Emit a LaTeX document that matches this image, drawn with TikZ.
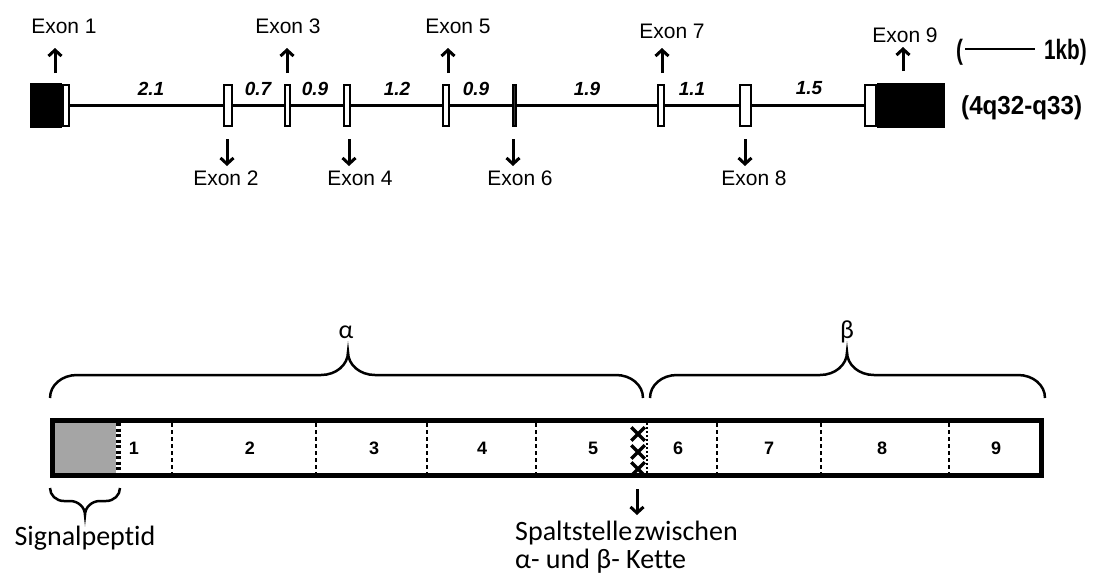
\documentclass[tikz,border=0pt]{standalone}
\usepackage{fontspec}
\setmainfont{Liberation Sans}
\newfontfamily\calfont[Ligatures=NoCommon]{Carlito}
\newfontfamily\kbfont[FakeStretch=0.74]{Liberation Sans Bold}
\newfontfamily\locfont[FakeStretch=0.93]{Liberation Sans Bold}
\usetikzlibrary{arrows.meta,shapes.misc,backgrounds}
\definecolor{sgray}{RGB}{165,165,165}
\begin{document}
\begin{tikzpicture}[x=1pt,y=-1pt,
  exon/.style={draw, line width=2pt, fill=white, inner sep=0pt, outer sep=0pt, minimum height=41pt},
  exonblack/.style={fill=black, inner sep=0pt, outer sep=0pt, minimum height=45pt},
  exonlab/.style={font=\fontsize{21}{25}\selectfont, inner sep=0pt, anchor=base},
  len/.style={font=\fontsize{19}{23}\selectfont\bfseries\itshape, inner sep=0pt, anchor=base},
  num/.style={font=\fontsize{18}{21}\selectfont\bfseries, inner sep=0pt, anchor=base},
  cal/.style={font=\fontsize{28}{32}\selectfont\calfont, inner sep=0pt},
  greek/.style={font=\fontsize{26}{30}\selectfont\calfont, inner sep=0pt, anchor=base},
  arr/.style={line width=3pt, -{Straight Barb[length=6pt,width=13pt,line width=3pt]}},
  brace/.style={line width=2.5pt},
  xmark/.style={draw, cross out, line width=3.5pt, minimum size=10pt, inner sep=0pt}
]
\useasboundingbox (0,0) rectangle (1097,576);
\begin{pgfonlayer}{background}
\fill[white] (0,0) rectangle (1097,576);
\end{pgfonlayer}

% ---------- gene ----------
\node[exonblack, minimum width=32pt] (e1b) at (46,105.5) {};
\node[exon, minimum width=6pt] (e1w) at (66,105.5) {};
\node[exon, minimum width=8pt] (e2) at (227.5,105.5) {};
\node[exon, minimum width=5pt] (e3) at (287,105.5) {};
\node[exon, minimum width=6pt] (e4) at (346.5,105.5) {};
\node[exon, minimum width=6pt] (e5) at (445.5,105.5) {};
\node[exon, minimum width=3pt, fill=black!80] (e6) at (514,105.5) {};
\node[exon, minimum width=6pt] (e7) at (660.5,105.5) {};
\node[exon, minimum width=11pt] (e8) at (745.5,105.5) {};
\node[exon, minimum width=11pt] (e9w) at (870.5,105.5) {};
\node[exonblack, minimum width=68pt] (e9b) at (911,105.5) {};
\begin{pgfonlayer}{background}
\draw[line width=3.5pt] (e1w.east) -- (e9w.west);
\end{pgfonlayer}

% exon labels
\node[exonlab] (l1) at (64,33) {Exon 1};
\node[exonlab] (l2) at (226,185) {Exon 2};
\node[exonlab] (l3) at (288,33) {Exon 3};
\node[exonlab] (l4) at (360,185) {Exon 4};
\node[exonlab] (l5) at (458,33) {Exon 5};
\node[exonlab] (l6) at (520,185) {Exon 6};
\node[exonlab] (l7) at (672,38) {Exon 7};
\node[exonlab] (l8) at (754,185) {Exon 8};
\node[exonlab] (l9) at (905,42) {Exon 9};

% arrows
\coordinate (u1) at (55,73);   \coordinate (t1) at (55,48);
\coordinate (u3) at (287,73);  \coordinate (t3) at (287,48);
\coordinate (u5) at (448,73);  \coordinate (t5) at (448,48);
\coordinate (u7) at (662,73);  \coordinate (t7) at (662,48);
\coordinate (u9) at (903,71);  \coordinate (t9) at (903,47);
\coordinate (d2) at (227,139); \coordinate (s2) at (227,166);
\coordinate (d4) at (349,139); \coordinate (s4) at (349,166);
\coordinate (d6) at (513,139); \coordinate (s6) at (513,166);
\coordinate (d8) at (745,139); \coordinate (s8) at (745,166);
\foreach \a/\b in {u1/t1,u3/t3,u5/t5,u7/t7,u9/t9,d2/s2,d4/s4,d6/s6,d8/s8}
  \draw[arr] (\a) -- (\b);

% intron lengths
\node[len] (i1) at (151,95) {2.1};
\node[len] (i2) at (258,95) {0.7};
\node[len] (i3) at (315,95) {0.9};
\node[len] (i4) at (397,95) {1.2};
\node[len] (i5) at (476,95) {0.9};
\node[len] (i6) at (587,95) {1.9};
\node[len] (i7) at (692,95) {1.1};
\node[len] (i8) at (809,94) {1.5};

% scale and locus
\node[anchor=base west, inner sep=0pt, font=\fontsize{28}{32}\selectfont\kbfont] (kb) at (956,59)
  {(\hspace{2pt}\rule[9pt]{70pt}{2.5pt}\hspace{9pt}1kb)};
\node[anchor=base west, inner sep=0pt, font=\fontsize{26}{30}\selectfont\locfont] (loc) at (961,114) {(4q32-q33)};

% ---------- protein ----------
\node[fill=sgray, minimum width=61pt, minimum height=51pt, inner sep=0pt] (sp) at (85,447.75) {};
\node[draw, line width=5pt, minimum width=989pt, minimum height=55.5pt, inner sep=0pt] (bar) at (547,447.75) {};
\draw[line width=5pt, dash pattern=on 3pt off 2.5pt] (118,423) -- (118,473);
\foreach \x in {172,316,427,536,717,821,949}
  \draw[line width=1.5pt, dash pattern=on 4pt off 3pt] (\x,423) -- (\x,473);
\draw[line width=2pt, dash pattern=on 2pt off 2pt] (647,423) -- (647,473);

\foreach \n/\x in {1/134,2/250,3/374,4/482,5/593,6/678,7/769,8/882,9/996}
  \node[num] (n\n) at (\x,454) {\n};

\foreach \i/\y in {1/434,2/452,3/469}
  \node[xmark] (x\i) at (638,\y) {};

\coordinate (c1) at (637,489);
\coordinate (c2) at (637,515);
\draw[arr] (c1) -- (c2);

% braces
\draw[brace] (50,398) .. controls (50,385) and (62,375) .. (77,375) -- (321,375)
  .. controls (336,375) and (348,365) .. (348,352)
  .. controls (348,365) and (360,375) .. (375,375) -- (616,375)
  .. controls (631,375) and (643,385) .. (643,398);
\draw[brace] (650,398) .. controls (650,385) and (662,375) .. (677,375) -- (820,375)
  .. controls (835,375) and (847,365) .. (847,352)
  .. controls (847,365) and (859,375) .. (874,375) -- (1018,375)
  .. controls (1033,375) and (1045,385) .. (1045,398);
\draw[brace] (50,488) .. controls (50,495) and (56,501) .. (64,501) -- (70,501)
  .. controls (78,501) and (85,507) .. (85,515)
  .. controls (85,507) and (92,501) .. (100,501) -- (106,501)
  .. controls (114,501) and (120,495) .. (120,488);

\node[greek] (alpha) at (346,338) {α};
\node[greek] (beta) at (847,338) {β};

\node[cal, anchor=base] (sig) at (85,545) {Signalpeptid};
\node[cal, anchor=base west] (sp1) at (515,540) {Spaltstelle\hspace{2pt}zwischen};
\node[cal, anchor=base west] (sp2) at (515,568) {α- und β- Kette};
\end{tikzpicture}
\end{document}
